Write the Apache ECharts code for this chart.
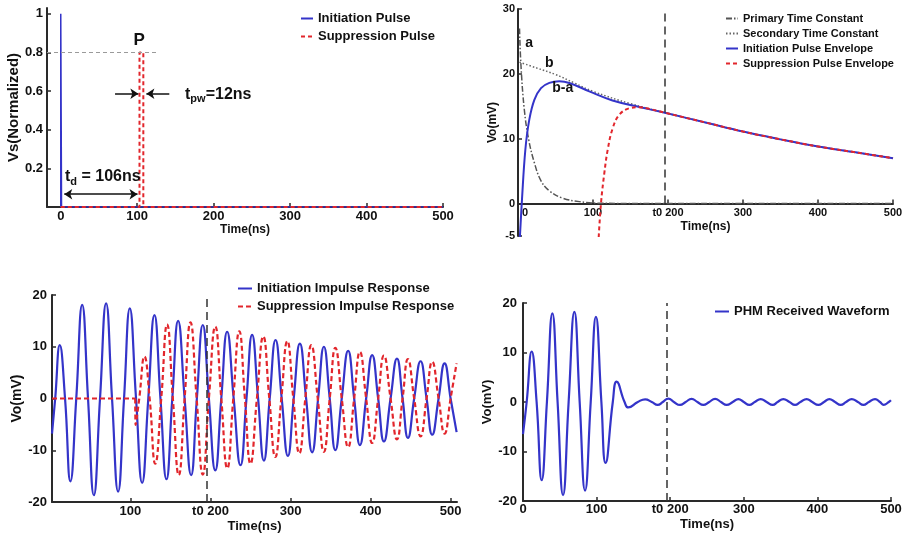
<!DOCTYPE html>
<html><head><meta charset="utf-8">
<script src="https://cdn.jsdelivr.net/npm/echarts@6/dist/echarts.min.js"></script>
<style>html,body{margin:0;padding:0;background:#fff}#c{width:902px;height:534px}</style>
</head><body><div id="c"></div>
<script>
// ---------- Panel 1: source pulses ----------
const p1InitT = [0, 0, 1, 1, 500];
const p1InitV = [0, 1, 1, 0, 0];
const p1SuppT = [0, 103, 103, 108, 108, 500];
const p1SuppV = [0, 0, 0.8, 0.8, 0, 0];
const p1XTicks = [0, 100, 200, 300, 400, 500];
const p1YTicks = [0.2, 0.4, 0.6, 0.8, 1];
const p1LevelT = [-18, 126];      // grey dashed guide at P level
const p1LevelV = 0.8;
const p1PwArrowL = [71, 101.5];   // arrow pointing right
const p1PwArrowR = [142, 112];    // arrow pointing left
const p1PwArrowV = 0.586;
const p1TdArrow = [4.6, 100.4];
const p1TdArrowV = 0.066;
const p1TextP = [102.6, 0.862];
const p1TextPw = [206, 0.583];
const p1TextTd = [55, 0.155];

// ---------- Panel 2: envelopes ----------
const p2PrimaryT = [2, 4, 8.4, 14.2, 21.8, 30.7, 41.8, 59.6, 81.8, 108, 200, 300, 400, 500];
const p2PrimaryV = [27, 21.2, 14.5, 9.9, 6.3, 3.5, 1.96, 0.83, 0.3, 0.05, 0, 0, 0, 0];
const p2SecondT = [2, 25, 50, 75, 100, 150, 196, 250, 300, 350, 400, 450, 500];
const p2SecondV = [21.8, 20.9, 19.9, 18.6, 17.3, 15.4, 14.0, 12.5, 11.1, 9.9, 8.8, 7.9, 7.0];
const p2InitT = [2.5, 5.3, 9.8, 15, 21.8, 30.7, 41.8, 55, 68.4, 95, 126, 161.8, 196, 250, 300, 350, 400, 450, 500];
const p2InitV = [-5.2, 0.6, 8.3, 12.9, 16.0, 17.8, 18.6, 18.85, 18.6, 17.3, 15.9, 14.9, 14.0, 12.5, 11.1, 9.9, 8.8, 7.9, 7.0];
const p2SuppT = [107.6, 110.7, 115.1, 119.6, 126.2, 135.1, 148.4, 161.8, 175, 196, 250, 300, 350, 400, 450, 500];
const p2SuppV = [-5.2, 0.1, 4.7, 8.3, 11.6, 13.7, 14.7, 14.85, 14.6, 14.0, 12.5, 11.1, 9.9, 8.8, 7.9, 7.0];
const p2XTicks = [0, 100, 200, 300, 400, 500];
const p2YTicks = [-5, 0, 10, 20, 30];
const p2TextA = [15, 24.8];
const p2TextB = [41.8, 21.7];
const p2TextBA = [59.6, 17.8];
const T0 = 195;

// ---------- Panel 3: impulse responses ----------
const p3InitT = [2, 6, 11.7, 18.3, 25, 32.3, 39.7, 47, 54.3, 62, 69.6, 77, 84.6, 92, 99.2, 107, 114.6, 122.3, 130, 137.5, 145, 152.3, 159.6, 167.7, 175.8, 183, 190.4, 198, 206, 213.5, 220.8, 229, 237.5, 245, 252, 259.5, 266.7, 274, 281.3, 289, 296.7, 304, 311.7, 319.5, 327, 334.5, 341.7, 349, 356, 364, 372, 379.5, 386.7, 394.5, 402, 409.5, 416.7, 425, 433, 440, 446.7, 454.5, 462.5, 470, 477, 485, 492.5, 500, 507.5];
const p3InitV = [-6.8, 0, 10.3, 0, -16.0, 0, 18.1, 0, -18.7, 0, 18.4, 0, -18.0, 0, 17.4, 0, -16.3, 0, 16.1, 0, -15.6, 0, 15.0, 0, -14.8, 0, 14.2, 0, -13.9, 0, 12.9, 0, -12.9, 0, 12.3, 0, -12.0, 0, 11.3, 0, -11.1, 0, 10.6, 0, -10.4, 0, 10.0, 0, -10.0, 0, 9.2, 0, -9.0, 0, 8.4, 0, -8.3, 0, 7.7, 0, -7.6, 0, 7.2, 0, -7.0, 0, 6.8, 0, -6.5];
const p3SuppFlatT = [2, 106];
const p3SuppFlatV = [0, 0];
const p3SuppT = [106, 106.5, 111, 117.5, 124, 131, 138.5, 145.8, 153, 160.4, 167.7, 175, 182.7, 190.4, 198, 206, 213.5, 221, 228.5, 236, 243, 250, 258, 266, 273.5, 281, 288.5, 296, 303.5, 311, 318.5, 326, 334, 341.7, 349, 356, 364, 372, 379.5, 386.7, 394.5, 402, 409.5, 416.7, 425, 433, 440, 446.7, 454.5, 462.5, 470, 477, 485, 492.5, 500, 507.5];
const p3SuppV = [0, -5.1, 0, 8.1, 0, -12.6, 0, 14.3, 0, -14.8, 0, 14.7, 0, -14.7, 0, 13.9, 0, -13.5, 0, 13.0, 0, -12.6, 0, 12.0, 0, -11.3, 0, 11.1, 0, -10.6, 0, 10.3, 0, -10.3, 0, 9.8, 0, -9.4, 0, 9.0, 0, -8.6, 0, 8.3, 0, -7.9, 0, 7.6, 0, -7.3, 0, 7.1, 0, -6.8, 0, 6.8];
const p3XTicks = [100, 200, 300, 400, 500];
const p3YTicks = [-20, -10, 0, 10, 20];

// ---------- Panel 4: received waveform ----------
const p4T = [0, 5, 11.8, 18.5, 25.4, 32.5, 39.9, 47, 54.4, 62, 69.8, 77, 84.3, 92, 99.1, 106.5, 112.2, 122, 127.2, 138, 143, 156, 166, 175, 183, 190, 197.5, 205, 213.3, 221, 229, 237, 245, 253, 261, 269, 276.7, 285, 292.6, 300, 307.5, 315, 323, 331, 339.3, 346, 353.7, 362, 369.6, 377, 385.4, 393, 401.3, 409, 416.2, 424, 431.7, 439, 446.6, 455, 462.5, 470, 478.3, 485, 490, 497, 500];
const p4V = [-6.5, 0, 10.2, 0, -15.8, 0, 17.9, 0, -18.8, 0, 18.2, 0, -17.9, 0, 17.2, 0, -12.3, 0, 4.1, 0, -1.1, 0, 0.55, 0, -0.6, 0, 0.7, 0, -0.6, 0, 0.65, 0, -0.6, 0, 0.65, 0, -0.6, 0, 0.6, 0, -0.6, 0, 0.6, 0, -0.6, 0, 0.6, 0, -0.6, 0, 0.6, 0, -0.6, 0, 0.6, 0, -0.6, 0, 0.6, 0, -0.6, 0, 0.6, 0, -0.6, 0, 0.35];
const p4XTicks = [0, 100, 200, 300, 400, 500];
const p4YTicks = [-20, -10, 0, 10, 20];

// ---------- build ----------
const FONT = '"Liberation Sans", Arial, sans-serif';
const BLUE = '#3434c9', RED = '#e2262c', AXIS = '#2a2a2a', TXT = '#111';
const zip = (xs, ys) => xs.map((x, i) => [x, ys[i]]);
const t0fmt = v => (v === 200 ? 't0 200' : String(v));
const p2fmt = v => (v === 0 ? '{z|0}' : t0fmt(v));

function mkAxis(o) {
  return {
    type: 'value', gridIndex: o.grid, min: o.min, max: o.max, offset: o.offset || 0,
    name: o.name, nameLocation: 'middle', nameGap: o.nameGap,
    nameTextStyle: { color: TXT, fontFamily: FONT, fontWeight: 'bold', fontSize: o.nameSize },
    axisLine: { show: true, onZero: false, lineStyle: { color: AXIS, width: 2 } },
    axisTick: { show: true, inside: true, length: 4, customValues: o.ticks, lineStyle: { color: AXIS, width: 1.5 } },
    axisLabel: { show: true, customValues: o.ticks, margin: o.margin, color: TXT, fontFamily: FONT,
      fontWeight: 'bold', fontSize: o.size, formatter: o.fmt || (v => String(v)),
      rich: { z: { padding: [0, 0, 0, 14], color: TXT, fontFamily: FONT, fontWeight: 'bold', fontSize: o.size } } },
    splitLine: { show: false }
  };
}
function line(name, xi, data, color, width, type, smooth, z) {
  return { name, type: 'line', xAxisIndex: xi, yAxisIndex: xi, data, symbol: 'none', showSymbol: false,
    smooth: smooth, clip: true, z: z || 2, animation: false,
    lineStyle: { color, width, type: type || 'solid' }, itemStyle: { color } };
}
function arrowLine(from, to, fromSym, toSym) {
  return [
    { coord: from, symbol: fromSym, symbolSize: 8, lineStyle: { color: TXT, width: 1.5, type: 'solid' } },
    { coord: to, symbol: toSym, symbolSize: 8 }
  ];
}
function textPt(coord, fmt, size) {
  return { coord, symbol: 'circle', symbolSize: 1, itemStyle: { color: 'rgba(0,0,0,0)' },
    label: { show: true, position: 'inside', formatter: fmt, color: TXT, fontFamily: FONT, fontWeight: 'bold', fontSize: size || 16,
      rich: {
        m: { fontSize: 16, fontWeight: 'bold', fontFamily: FONT, color: TXT, lineHeight: 20 },
        s: { fontSize: 11, fontWeight: 'bold', fontFamily: FONT, color: TXT, lineHeight: 20, padding: [9, 0, 0, 0] }
      } } };
}
const legendBase = s => ({ orient: 'vertical', padding: 0, selectedMode: false,
  itemStyle: { opacity: 0, borderWidth: 0 },
  textStyle: { color: TXT, fontFamily: FONT, fontWeight: 'bold', fontSize: s } });
const t0Style = { color: '#333', width: 1.5, type: [8, 5] };

// series
const s1a = line('Initiation Pulse', 0, zip(p1InitT, p1InitV), BLUE, 1.5, 'solid', false, 3);
s1a.markLine = { silent: true, animation: false, label: { show: false }, symbol: ['none', 'none'],
  data: [
    [ { coord: [p1LevelT[0], p1LevelV], symbol: 'none', lineStyle: { color: '#9a9a9a', width: 1, type: [4, 3] } },
      { coord: [p1LevelT[1], p1LevelV], symbol: 'none' } ],
    arrowLine([p1PwArrowL[0], p1PwArrowV], [p1PwArrowL[1], p1PwArrowV], 'none', 'arrow'),
    arrowLine([p1PwArrowR[0], p1PwArrowV], [p1PwArrowR[1], p1PwArrowV], 'none', 'arrow'),
    arrowLine([p1TdArrow[0], p1TdArrowV], [p1TdArrow[1], p1TdArrowV], 'arrow', 'arrow')
  ] };
s1a.markPoint = { silent: true, animation: false, data: [
  textPt(p1TextP, 'P', 17),
  textPt(p1TextPw, '{m|t}{s|pw}{m|=12ns}'),
  textPt(p1TextTd, '{m|t}{s|d}{m| = 106ns}')
] };
const s1b = line('Suppression Pulse', 0, zip(p1SuppT, p1SuppV), RED, 2, [4, 3], false, 4);

const s2a = line('Primary Time Constant', 1, zip(p2PrimaryT, p2PrimaryV), '#555', 1.5, [6, 2, 1.5, 2], 0.4, 2);
const s2b = line('Secondary Time Constant', 1, zip(p2SecondT, p2SecondV), '#666', 1.5, [1.5, 2], 0.4, 2);
const s2c = line('Initiation Pulse Envelope', 1, zip(p2InitT, p2InitV), BLUE, 2, 'solid', 0.4, 3);
s2c.markLine = { silent: true, animation: false, label: { show: false }, symbol: ['none', 'none'],
  data: [[ { coord: [T0, 0], lineStyle: t0Style }, { coord: [T0, 30] } ]] };
s2c.markPoint = { silent: true, animation: false, data: [
  textPt(p2TextA, 'a', 14), textPt(p2TextB, 'b', 14), textPt(p2TextBA, 'b-a', 14)
] };
const s2d = line('Suppression Pulse Envelope', 1, zip(p2SuppT, p2SuppV), RED, 2, [4, 3], 0.4, 4);

const s3a = line('Initiation Impulse Response', 2, zip(p3InitT, p3InitV), BLUE, 2.2, 'solid', 0.5, 3);
s3a.markLine = { silent: true, animation: false, label: { show: false }, symbol: ['none', 'none'],
  data: [[ { coord: [T0, -20], lineStyle: t0Style }, { coord: [T0, 20] } ]] };
const s3b = line('Suppression Impulse Response', 2, zip(p3SuppFlatT, p3SuppFlatV), RED, 2.2, [5, 3], false, 4);
const s3c = line('Suppression Impulse Response', 2, zip(p3SuppT, p3SuppV), RED, 2.2, [5, 3], 0.5, 4);

const s4a = line('PHM Received Waveform', 3, zip(p4T, p4V), BLUE, 2.2, 'solid', 0.5, 3);
s4a.markLine = { silent: true, animation: false, label: { show: false }, symbol: ['none', 'none'],
  data: [[ { coord: [T0, -20], lineStyle: t0Style }, { coord: [T0, 20] } ]] };

const option = {
  animation: false,
  backgroundColor: '#fff',
  grid: [
    { left: 47, top: 8, width: 396, height: 199, outerBoundsMode: 'none', containLabel: false },
    { left: 518, top: 9, width: 375, height: 227, outerBoundsMode: 'none', containLabel: false },
    { left: 52, top: 295, width: 405, height: 207, outerBoundsMode: 'none', containLabel: false },
    { left: 523, top: 303, width: 368, height: 198, outerBoundsMode: 'none', containLabel: false }
  ],
  xAxis: [
    mkAxis({ grid: 0, min: -18, max: 500, ticks: p1XTicks, name: 'Time(ns)', nameGap: 16, nameSize: 12, size: 13, margin: 3 }),
    // x axis of panel 2 sits on the Vo = 0 level (5 units of 227/35 px above the grid bottom)
    mkAxis({ grid: 1, min: 0, max: 500, ticks: p2XTicks, name: 'Time(ns)', nameGap: 17, nameSize: 12, size: 11, margin: 4, offset: -5 * 227 / 35, fmt: p2fmt }),
    mkAxis({ grid: 2, min: 2, max: 508, ticks: p3XTicks, name: 'Time(ns)', nameGap: 18, nameSize: 13, size: 13, margin: 3, fmt: t0fmt }),
    mkAxis({ grid: 3, min: 0, max: 500, ticks: p4XTicks, name: 'Time(ns)', nameGap: 17, nameSize: 13, size: 13, margin: 2, fmt: t0fmt })
  ],
  yAxis: [
    mkAxis({ grid: 0, min: 0, max: 1.03, ticks: p1YTicks, name: 'Vs(Normalized)', nameGap: 17, nameSize: 15, size: 13, margin: 4 }),
    mkAxis({ grid: 1, min: -5, max: 30, ticks: p2YTicks, name: 'Vo(mV)', nameGap: 15, nameSize: 12, size: 11, margin: 3 }),
    mkAxis({ grid: 2, min: -20, max: 20, ticks: p3YTicks, name: 'Vo(mV)', nameGap: 18, nameSize: 14, size: 13, margin: 5 }),
    mkAxis({ grid: 3, min: -20, max: 20, ticks: p4YTicks, name: 'Vo(mV)', nameGap: 25, nameSize: 13, size: 13, margin: 6 })
  ],
  legend: [
    Object.assign(legendBase(13), { data: ['Initiation Pulse', 'Suppression Pulse'], left: 300, top: 12,
      itemWidth: 12, itemHeight: 12, itemGap: 5 }),
    Object.assign(legendBase(11), { data: ['Primary Time Constant', 'Secondary Time Constant', 'Initiation Pulse Envelope', 'Suppression Pulse Envelope'],
      left: 725, top: 13, itemWidth: 12, itemHeight: 10, itemGap: 4 }),
    Object.assign(legendBase(13), { data: ['Initiation Impulse Response', 'Suppression Impulse Response'], left: 237, top: 282,
      itemWidth: 14, itemHeight: 12, itemGap: 5 }),
    Object.assign(legendBase(13), { data: ['PHM Received Waveform'], left: 714, top: 305,
      itemWidth: 14, itemHeight: 12, itemGap: 5 })
  ],
  series: [s1a, s1b, s2a, s2b, s2c, s2d, s3a, s3b, s3c, s4a]
};
const chart = echarts.init(document.getElementById('c'), null, { renderer: 'canvas' });
chart.setOption(option);
</script>
</body></html>
